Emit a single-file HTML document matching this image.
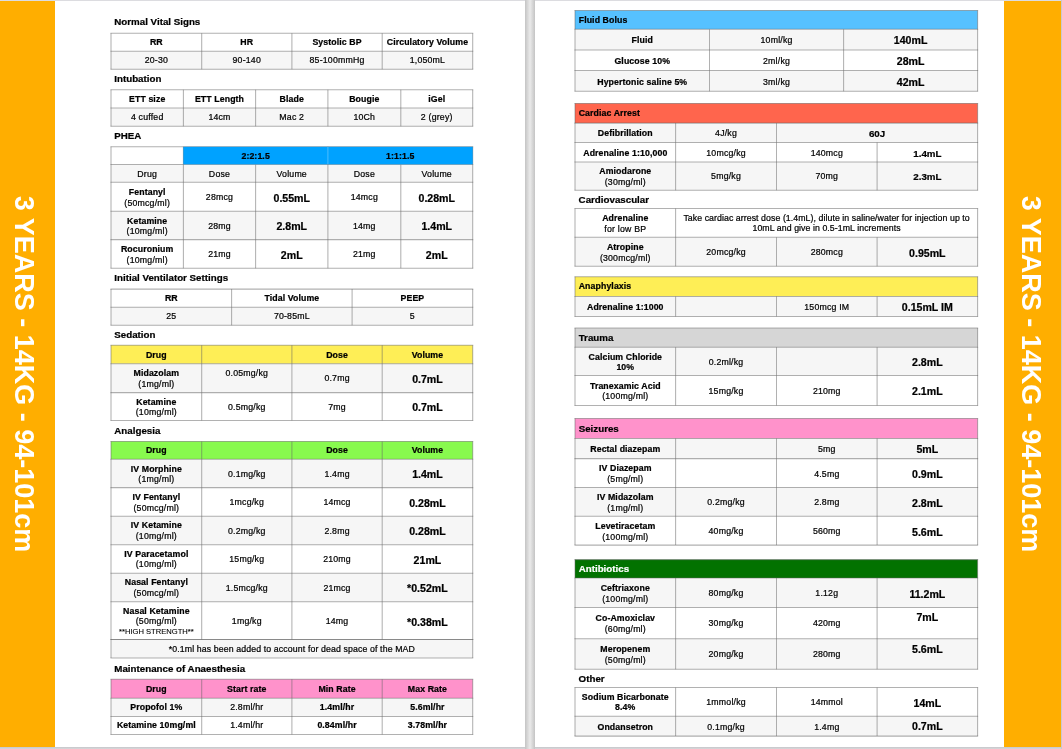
<!DOCTYPE html>
<html><head><meta charset="utf-8"><title>3 YEARS - 14KG - 94-101cm</title>
<style>
html,body{margin:0;padding:0}
body{width:1062px;height:749px;position:relative;overflow:hidden;background:linear-gradient(to bottom,#dcdce0 0,#dcdce0 1px,#fff 1px,#fff 747px,#c6c6ca 747px,#d8d8da 749px);font-family:"Liberation Sans",sans-serif;color:#000;}
.pg{position:absolute;background:#fff}
.bar{position:absolute;top:1px;height:746px;background:#ffae00}
.gap{position:absolute;left:525px;top:0;width:10px;height:749px;background:linear-gradient(to right,#c4c4c4,#e6e6e6 45%,#e6e6e6 55%,#c4c4c4)}
.side{position:absolute;color:#fff;font-weight:bold;font-size:27px;white-space:nowrap;transform:translate(-50%,-50%) rotate(90deg);line-height:1}
svg.g{position:absolute;left:0;top:0}
.t{position:absolute;height:14px;line-height:14px;text-align:center;white-space:nowrap;font-size:8.75px;letter-spacing:0.2px;-webkit-text-stroke:0.22px}
.t.tl{text-align:left}
.t.b{font-weight:bold;font-size:8.75px;letter-spacing:0.1px}
.t.v{font-weight:bold;font-size:10.6px;letter-spacing:0}
.t.hh,.t.h,.t.m{font-weight:bold;font-size:9.75px;letter-spacing:0}
.t.s{font-size:7.6px;letter-spacing:0;-webkit-text-stroke:0.1px}
.t.r2{letter-spacing:0.07px}
.t.r3{letter-spacing:0.12px}
</style></head><body>
<div class="gap"></div>
<div class="gap" style="left:1061px;width:1px;background:#c9c9cb"></div>
<div class="pg" style="left:0;top:1px;width:525px;height:746px"></div>
<div class="pg" style="left:535px;top:1px;width:526px;height:746px"></div>
<div class="bar" style="left:0;width:55px"></div>
<div class="bar" style="left:1004px;width:57px"></div>
<div class="side" style="left:23.2px;top:373.75px">3 YEARS - 14KG - 94-101cm</div>
<div class="side" style="left:1030.2px;top:373.75px">3 YEARS - 14KG - 94-101cm</div>
<svg class="g" width="1062" height="749" viewBox="0 0 1062 749">
<g>
<rect x="111.00" y="51.30" width="361.70" height="18.00" fill="#f6f6f6"/>
<rect x="111.00" y="108.00" width="361.70" height="18.20" fill="#f6f6f6"/>
<rect x="183.40" y="146.70" width="144.50" height="17.70" fill="#00a2ff"/>
<rect x="327.90" y="146.70" width="144.80" height="17.70" fill="#00a2ff"/>
<rect x="111.00" y="164.40" width="361.70" height="17.90" fill="#f6f6f6"/>
<rect x="111.00" y="211.20" width="361.70" height="28.40" fill="#f6f6f6"/>
<rect x="111.00" y="307.20" width="361.70" height="18.10" fill="#f6f6f6"/>
<rect x="111.00" y="345.20" width="361.70" height="18.50" fill="#feee56"/>
<rect x="111.00" y="363.70" width="361.70" height="28.90" fill="#f6f6f6"/>
<rect x="111.00" y="441.40" width="361.70" height="17.90" fill="#88fa4e"/>
<rect x="111.00" y="459.30" width="361.70" height="28.30" fill="#f6f6f6"/>
<rect x="111.00" y="516.30" width="361.70" height="28.50" fill="#f6f6f6"/>
<rect x="111.00" y="573.30" width="361.70" height="28.50" fill="#f6f6f6"/>
<rect x="111.00" y="639.50" width="361.70" height="18.50" fill="#f6f6f6"/>
<rect x="111.00" y="679.20" width="361.70" height="19.00" fill="#ff92cb"/>
<rect x="111.00" y="698.20" width="361.70" height="18.30" fill="#f6f6f6"/>
<rect x="575.00" y="10.50" width="402.60" height="18.80" fill="#56c1ff"/>
<rect x="575.00" y="29.30" width="402.60" height="20.70" fill="#f6f6f6"/>
<rect x="575.00" y="70.50" width="402.60" height="20.80" fill="#f6f6f6"/>
<rect x="575.00" y="103.40" width="402.60" height="19.70" fill="#ff654d"/>
<rect x="575.00" y="123.10" width="402.60" height="19.40" fill="#f6f6f6"/>
<rect x="575.00" y="162.00" width="402.60" height="28.20" fill="#f6f6f6"/>
<rect x="575.00" y="237.30" width="402.60" height="28.90" fill="#f6f6f6"/>
<rect x="575.00" y="276.80" width="402.60" height="19.60" fill="#feee56"/>
<rect x="575.00" y="296.40" width="402.60" height="20.00" fill="#f6f6f6"/>
<rect x="575.00" y="328.00" width="402.60" height="19.20" fill="#d6d6d6"/>
<rect x="575.00" y="347.20" width="402.60" height="28.30" fill="#f6f6f6"/>
<rect x="575.00" y="418.50" width="402.60" height="20.00" fill="#ff92cb"/>
<rect x="575.00" y="438.50" width="402.60" height="20.10" fill="#f6f6f6"/>
<rect x="575.00" y="487.40" width="402.60" height="28.80" fill="#f6f6f6"/>
<rect x="575.00" y="559.60" width="402.60" height="18.40" fill="#027200"/>
<rect x="575.00" y="578.00" width="402.60" height="29.50" fill="#f6f6f6"/>
<rect x="575.00" y="638.80" width="402.60" height="30.50" fill="#f6f6f6"/>
<rect x="575.00" y="716.20" width="402.60" height="19.90" fill="#f6f6f6"/>
</g>
<g fill="none" stroke="rgba(100,100,100,0.5)" stroke-width="1.05">
<path d="M201.70 33.30V51.30"/>
<path d="M291.90 33.30V51.30"/>
<path d="M382.20 33.30V51.30"/>
<path d="M201.70 51.30V69.30"/>
<path d="M291.90 51.30V69.30"/>
<path d="M382.20 51.30V69.30"/>
<path d="M110.47 33.30H473.22"/>
<path d="M110.47 51.30H473.22"/>
<path d="M110.47 69.30H473.22"/>
<path d="M111.00 33.30V69.30"/>
<path d="M472.70 33.30V69.30"/>
<path d="M183.40 89.80V108.00"/>
<path d="M255.60 89.80V108.00"/>
<path d="M327.90 89.80V108.00"/>
<path d="M400.80 89.80V108.00"/>
<path d="M183.40 108.00V126.20"/>
<path d="M255.60 108.00V126.20"/>
<path d="M327.90 108.00V126.20"/>
<path d="M400.80 108.00V126.20"/>
<path d="M110.47 89.80H473.22"/>
<path d="M110.47 108.00H473.22"/>
<path d="M110.47 126.20H473.22"/>
<path d="M111.00 89.80V126.20"/>
<path d="M472.70 89.80V126.20"/>
<path d="M183.40 146.70V164.40"/>
<path d="M327.90 146.70V164.40"/>
<path d="M183.40 164.40V182.30"/>
<path d="M255.60 164.40V182.30"/>
<path d="M327.90 164.40V182.30"/>
<path d="M400.80 164.40V182.30"/>
<path d="M183.40 182.30V211.20"/>
<path d="M255.60 182.30V211.20"/>
<path d="M327.90 182.30V211.20"/>
<path d="M400.80 182.30V211.20"/>
<path d="M183.40 211.20V239.60"/>
<path d="M255.60 211.20V239.60"/>
<path d="M327.90 211.20V239.60"/>
<path d="M400.80 211.20V239.60"/>
<path d="M183.40 239.60V268.30"/>
<path d="M255.60 239.60V268.30"/>
<path d="M327.90 239.60V268.30"/>
<path d="M400.80 239.60V268.30"/>
<path d="M110.47 146.70H473.22"/>
<path d="M110.47 164.40H473.22"/>
<path d="M110.47 182.30H473.22"/>
<path d="M110.47 211.20H473.22"/>
<path d="M110.47 239.60H473.22"/>
<path d="M110.47 268.30H473.22"/>
<path d="M111.00 146.70V268.30"/>
<path d="M472.70 146.70V268.30"/>
<path d="M231.60 289.10V307.20"/>
<path d="M352.10 289.10V307.20"/>
<path d="M231.60 307.20V325.30"/>
<path d="M352.10 307.20V325.30"/>
<path d="M110.47 289.10H473.22"/>
<path d="M110.47 307.20H473.22"/>
<path d="M110.47 325.30H473.22"/>
<path d="M111.00 289.10V325.30"/>
<path d="M472.70 289.10V325.30"/>
<path d="M201.70 345.20V363.70"/>
<path d="M291.90 345.20V363.70"/>
<path d="M382.20 345.20V363.70"/>
<path d="M201.70 363.70V392.60"/>
<path d="M291.90 363.70V392.60"/>
<path d="M382.20 363.70V392.60"/>
<path d="M201.70 392.60V420.50"/>
<path d="M291.90 392.60V420.50"/>
<path d="M382.20 392.60V420.50"/>
<path d="M110.47 345.20H473.22"/>
<path d="M110.47 363.70H473.22"/>
<path d="M110.47 392.60H473.22"/>
<path d="M110.47 420.50H473.22"/>
<path d="M111.00 345.20V420.50"/>
<path d="M472.70 345.20V420.50"/>
<path d="M201.70 441.40V459.30"/>
<path d="M291.90 441.40V459.30"/>
<path d="M382.20 441.40V459.30"/>
<path d="M201.70 459.30V487.60"/>
<path d="M291.90 459.30V487.60"/>
<path d="M382.20 459.30V487.60"/>
<path d="M201.70 487.60V516.30"/>
<path d="M291.90 487.60V516.30"/>
<path d="M382.20 487.60V516.30"/>
<path d="M201.70 516.30V544.80"/>
<path d="M291.90 516.30V544.80"/>
<path d="M382.20 516.30V544.80"/>
<path d="M201.70 544.80V573.30"/>
<path d="M291.90 544.80V573.30"/>
<path d="M382.20 544.80V573.30"/>
<path d="M201.70 573.30V601.80"/>
<path d="M291.90 573.30V601.80"/>
<path d="M382.20 573.30V601.80"/>
<path d="M201.70 601.80V639.50"/>
<path d="M291.90 601.80V639.50"/>
<path d="M382.20 601.80V639.50"/>
<path d="M110.47 441.40H473.22"/>
<path d="M110.47 459.30H473.22"/>
<path d="M110.47 487.60H473.22"/>
<path d="M110.47 516.30H473.22"/>
<path d="M110.47 544.80H473.22"/>
<path d="M110.47 573.30H473.22"/>
<path d="M110.47 601.80H473.22"/>
<path d="M110.47 639.50H473.22"/>
<path d="M111.00 441.40V639.50"/>
<path d="M472.70 441.40V639.50"/>
<path d="M110.47 639.50H473.22"/>
<path d="M110.47 658.00H473.22"/>
<path d="M111.00 639.50V658.00"/>
<path d="M472.70 639.50V658.00"/>
<path d="M201.70 679.20V698.20"/>
<path d="M291.90 679.20V698.20"/>
<path d="M382.20 679.20V698.20"/>
<path d="M201.70 698.20V716.50"/>
<path d="M291.90 698.20V716.50"/>
<path d="M382.20 698.20V716.50"/>
<path d="M201.70 716.50V734.50"/>
<path d="M291.90 716.50V734.50"/>
<path d="M382.20 716.50V734.50"/>
<path d="M110.47 679.20H473.22"/>
<path d="M110.47 698.20H473.22"/>
<path d="M110.47 716.50H473.22"/>
<path d="M110.47 734.50H473.22"/>
<path d="M111.00 679.20V734.50"/>
<path d="M472.70 679.20V734.50"/>
<path d="M709.50 29.30V50.00"/>
<path d="M843.60 29.30V50.00"/>
<path d="M709.50 50.00V70.50"/>
<path d="M843.60 50.00V70.50"/>
<path d="M709.50 70.50V91.30"/>
<path d="M843.60 70.50V91.30"/>
<path d="M574.48 10.50H978.12"/>
<path d="M574.48 29.30H978.12"/>
<path d="M574.48 50.00H978.12"/>
<path d="M574.48 70.50H978.12"/>
<path d="M574.48 91.30H978.12"/>
<path d="M575.00 10.50V91.30"/>
<path d="M977.60 10.50V91.30"/>
<path d="M675.60 123.10V142.50"/>
<path d="M776.50 123.10V142.50"/>
<path d="M675.60 142.50V162.00"/>
<path d="M776.50 142.50V162.00"/>
<path d="M877.10 142.50V162.00"/>
<path d="M675.60 162.00V190.20"/>
<path d="M776.50 162.00V190.20"/>
<path d="M877.10 162.00V190.20"/>
<path d="M574.48 103.40H978.12"/>
<path d="M574.48 123.10H978.12"/>
<path d="M574.48 142.50H978.12"/>
<path d="M574.48 162.00H978.12"/>
<path d="M574.48 190.20H978.12"/>
<path d="M575.00 103.40V190.20"/>
<path d="M977.60 103.40V190.20"/>
<path d="M675.60 208.50V237.30"/>
<path d="M675.60 237.30V266.20"/>
<path d="M776.50 237.30V266.20"/>
<path d="M877.10 237.30V266.20"/>
<path d="M574.48 208.50H978.12"/>
<path d="M574.48 237.30H978.12"/>
<path d="M574.48 266.20H978.12"/>
<path d="M575.00 208.50V266.20"/>
<path d="M977.60 208.50V266.20"/>
<path d="M675.60 296.40V316.40"/>
<path d="M776.50 296.40V316.40"/>
<path d="M877.10 296.40V316.40"/>
<path d="M574.48 276.80H978.12"/>
<path d="M574.48 296.40H978.12"/>
<path d="M574.48 316.40H978.12"/>
<path d="M575.00 276.80V316.40"/>
<path d="M977.60 276.80V316.40"/>
<path d="M675.60 347.20V375.50"/>
<path d="M776.50 347.20V375.50"/>
<path d="M877.10 347.20V375.50"/>
<path d="M675.60 375.50V405.50"/>
<path d="M776.50 375.50V405.50"/>
<path d="M877.10 375.50V405.50"/>
<path d="M574.48 328.00H978.12"/>
<path d="M574.48 347.20H978.12"/>
<path d="M574.48 375.50H978.12"/>
<path d="M574.48 405.50H978.12"/>
<path d="M575.00 328.00V405.50"/>
<path d="M977.60 328.00V405.50"/>
<path d="M675.60 438.50V458.60"/>
<path d="M776.50 438.50V458.60"/>
<path d="M877.10 438.50V458.60"/>
<path d="M675.60 458.60V487.40"/>
<path d="M776.50 458.60V487.40"/>
<path d="M877.10 458.60V487.40"/>
<path d="M675.60 487.40V516.20"/>
<path d="M776.50 487.40V516.20"/>
<path d="M877.10 487.40V516.20"/>
<path d="M675.60 516.20V545.10"/>
<path d="M776.50 516.20V545.10"/>
<path d="M877.10 516.20V545.10"/>
<path d="M574.48 418.50H978.12"/>
<path d="M574.48 438.50H978.12"/>
<path d="M574.48 458.60H978.12"/>
<path d="M574.48 487.40H978.12"/>
<path d="M574.48 516.20H978.12"/>
<path d="M574.48 545.10H978.12"/>
<path d="M575.00 418.50V545.10"/>
<path d="M977.60 418.50V545.10"/>
<path d="M675.60 578.00V607.50"/>
<path d="M776.50 578.00V607.50"/>
<path d="M877.10 578.00V607.50"/>
<path d="M675.60 607.50V638.80"/>
<path d="M776.50 607.50V638.80"/>
<path d="M877.10 607.50V638.80"/>
<path d="M675.60 638.80V669.30"/>
<path d="M776.50 638.80V669.30"/>
<path d="M877.10 638.80V669.30"/>
<path d="M574.48 559.60H978.12"/>
<path d="M574.48 578.00H978.12"/>
<path d="M574.48 607.50H978.12"/>
<path d="M574.48 638.80H978.12"/>
<path d="M574.48 669.30H978.12"/>
<path d="M575.00 559.60V669.30"/>
<path d="M977.60 559.60V669.30"/>
<path d="M675.60 687.50V716.20"/>
<path d="M776.50 687.50V716.20"/>
<path d="M877.10 687.50V716.20"/>
<path d="M675.60 716.20V736.10"/>
<path d="M776.50 716.20V736.10"/>
<path d="M877.10 716.20V736.10"/>
<path d="M574.48 687.50H978.12"/>
<path d="M574.48 716.20H978.12"/>
<path d="M574.48 736.10H978.12"/>
<path d="M575.00 687.50V736.10"/>
<path d="M977.60 687.50V736.10"/>
</g>
<rect x="183.5" y="147.0" width="289.0" height="17.3" fill="#00a2ff"/>
<path d="M327.9 147V164.3" stroke="rgba(255,255,255,0.3)" stroke-width="1" fill="none"/>
</svg>
<div class="t tl h" style="left:114.30px;top:14.74px;">Normal Vital Signs</div>
<div class="t b" style="left:111.00px;width:90.70px;top:34.80px;">RR</div>
<div class="t b" style="left:201.70px;width:90.20px;top:34.80px;">HR</div>
<div class="t b" style="left:291.90px;width:90.30px;top:34.80px;">Systolic BP</div>
<div class="t b" style="left:382.20px;width:90.50px;top:34.80px;">Circulatory Volume</div>
<div class="t r" style="left:111.00px;width:90.70px;top:52.70px;">20-30</div>
<div class="t r" style="left:201.70px;width:90.20px;top:52.70px;">90-140</div>
<div class="t r" style="left:291.90px;width:90.30px;top:52.70px;">85-100mmHg</div>
<div class="t r" style="left:382.20px;width:90.50px;top:52.70px;">1,050mL</div>
<div class="t tl h" style="left:114.30px;top:71.64px;">Intubation</div>
<div class="t b" style="left:111.00px;width:72.40px;top:92.10px;">ETT size</div>
<div class="t b" style="left:183.40px;width:72.20px;top:92.10px;">ETT Length</div>
<div class="t b" style="left:255.60px;width:72.30px;top:92.10px;">Blade</div>
<div class="t b" style="left:327.90px;width:72.90px;top:92.10px;">Bougie</div>
<div class="t b" style="left:400.80px;width:71.90px;top:92.10px;">iGel</div>
<div class="t r" style="left:111.00px;width:72.40px;top:110.30px;">4 cuffed</div>
<div class="t r" style="left:183.40px;width:72.20px;top:110.30px;">14cm</div>
<div class="t r" style="left:255.60px;width:72.30px;top:110.30px;">Mac 2</div>
<div class="t r" style="left:327.90px;width:72.90px;top:110.30px;">10Ch</div>
<div class="t r" style="left:400.80px;width:71.90px;top:110.30px;">2 (grey)</div>
<div class="t tl h" style="left:114.30px;top:128.64px;">PHEA</div>
<div class="t b" style="left:183.40px;width:144.50px;top:148.75px;">2:2:1.5</div>
<div class="t b" style="left:327.90px;width:144.80px;top:148.75px;">1:1:1.5</div>
<div class="t r" style="left:111.00px;width:72.40px;top:166.55px;">Drug</div>
<div class="t r" style="left:183.40px;width:72.20px;top:166.55px;">Dose</div>
<div class="t r" style="left:255.60px;width:72.30px;top:166.55px;">Volume</div>
<div class="t r" style="left:327.90px;width:72.90px;top:166.55px;">Dose</div>
<div class="t r" style="left:400.80px;width:71.90px;top:166.55px;">Volume</div>
<div class="t b" style="left:111.00px;width:72.40px;top:184.85px;">Fentanyl</div>
<div class="t r" style="left:111.00px;width:72.40px;top:195.65px;">(50mcg/ml)</div>
<div class="t r" style="left:183.40px;width:72.20px;top:189.95px;">28mcg</div>
<div class="t v" style="left:255.60px;width:72.30px;top:190.65px;">0.55mL</div>
<div class="t r" style="left:327.90px;width:72.90px;top:189.95px;">14mcg</div>
<div class="t v" style="left:400.80px;width:71.90px;top:190.65px;">0.28mL</div>
<div class="t b" style="left:111.00px;width:72.40px;top:213.50px;">Ketamine</div>
<div class="t r" style="left:111.00px;width:72.40px;top:224.30px;">(10mg/ml)</div>
<div class="t r" style="left:183.40px;width:72.20px;top:218.60px;">28mg</div>
<div class="t v" style="left:255.60px;width:72.30px;top:219.30px;">2.8mL</div>
<div class="t r" style="left:327.90px;width:72.90px;top:218.60px;">14mg</div>
<div class="t v" style="left:400.80px;width:71.90px;top:219.30px;">1.4mL</div>
<div class="t b" style="left:111.00px;width:72.40px;top:242.05px;">Rocuronium</div>
<div class="t r" style="left:111.00px;width:72.40px;top:252.85px;">(10mg/ml)</div>
<div class="t r" style="left:183.40px;width:72.20px;top:247.15px;">21mg</div>
<div class="t v" style="left:255.60px;width:72.30px;top:247.85px;">2mL</div>
<div class="t r" style="left:327.90px;width:72.90px;top:247.15px;">21mg</div>
<div class="t v" style="left:400.80px;width:71.90px;top:247.85px;">2mL</div>
<div class="t tl h" style="left:114.30px;top:270.64px;">Initial Ventilator Settings</div>
<div class="t b" style="left:111.00px;width:120.60px;top:291.35px;">RR</div>
<div class="t b" style="left:231.60px;width:120.50px;top:291.35px;">Tidal Volume</div>
<div class="t b" style="left:352.10px;width:120.60px;top:291.35px;">PEEP</div>
<div class="t r" style="left:111.00px;width:120.60px;top:309.45px;">25</div>
<div class="t r" style="left:231.60px;width:120.50px;top:309.45px;">70-85mL</div>
<div class="t r" style="left:352.10px;width:120.60px;top:309.45px;">5</div>
<div class="t tl h" style="left:114.30px;top:327.64px;">Sedation</div>
<div class="t b" style="left:111.00px;width:90.70px;top:347.65px;">Drug</div>
<div class="t b" style="left:291.90px;width:90.30px;top:347.65px;">Dose</div>
<div class="t b" style="left:382.20px;width:90.50px;top:347.65px;">Volume</div>
<div class="t b" style="left:111.00px;width:90.70px;top:366.25px;">Midazolam</div>
<div class="t r" style="left:111.00px;width:90.70px;top:377.05px;">(1mg/ml)</div>
<div class="t r" style="left:201.70px;width:90.20px;top:365.95px;">0.05mg/kg</div>
<div class="t r" style="left:291.90px;width:90.30px;top:371.35px;">0.7mg</div>
<div class="t v" style="left:382.20px;width:90.50px;top:372.05px;">0.7mL</div>
<div class="t b" style="left:111.00px;width:90.70px;top:394.65px;">Ketamine</div>
<div class="t r" style="left:111.00px;width:90.70px;top:405.45px;">(10mg/ml)</div>
<div class="t r" style="left:201.70px;width:90.20px;top:399.75px;">0.5mg/kg</div>
<div class="t r" style="left:291.90px;width:90.30px;top:399.75px;">7mg</div>
<div class="t v" style="left:382.20px;width:90.50px;top:400.45px;">0.7mL</div>
<div class="t tl h" style="left:114.30px;top:424.14px;">Analgesia</div>
<div class="t b" style="left:111.00px;width:90.70px;top:442.85px;">Drug</div>
<div class="t b" style="left:291.90px;width:90.30px;top:442.85px;">Dose</div>
<div class="t b" style="left:382.20px;width:90.50px;top:442.85px;">Volume</div>
<div class="t b" style="left:111.00px;width:90.70px;top:461.55px;">IV Morphine</div>
<div class="t r" style="left:111.00px;width:90.70px;top:472.35px;">(1mg/ml)</div>
<div class="t r" style="left:201.70px;width:90.20px;top:466.65px;">0.1mg/kg</div>
<div class="t r" style="left:291.90px;width:90.30px;top:466.65px;">1.4mg</div>
<div class="t v" style="left:382.20px;width:90.50px;top:467.35px;">1.4mL</div>
<div class="t b" style="left:111.00px;width:90.70px;top:490.05px;">IV Fentanyl</div>
<div class="t r" style="left:111.00px;width:90.70px;top:500.85px;">(50mcg/ml)</div>
<div class="t r" style="left:201.70px;width:90.20px;top:495.15px;">1mcg/kg</div>
<div class="t r" style="left:291.90px;width:90.30px;top:495.15px;">14mcg</div>
<div class="t v" style="left:382.20px;width:90.50px;top:495.85px;">0.28mL</div>
<div class="t b" style="left:111.00px;width:90.70px;top:518.35px;">IV Ketamine</div>
<div class="t r" style="left:111.00px;width:90.70px;top:529.15px;">(10mg/ml)</div>
<div class="t r" style="left:201.70px;width:90.20px;top:523.75px;">0.2mg/kg</div>
<div class="t r" style="left:291.90px;width:90.30px;top:523.75px;">2.8mg</div>
<div class="t v" style="left:382.20px;width:90.50px;top:524.45px;">0.28mL</div>
<div class="t b" style="left:111.00px;width:90.70px;top:546.65px;">IV Paracetamol</div>
<div class="t r" style="left:111.00px;width:90.70px;top:557.45px;">(10mg/ml)</div>
<div class="t r" style="left:201.70px;width:90.20px;top:552.25px;">15mg/kg</div>
<div class="t r" style="left:291.90px;width:90.30px;top:552.25px;">210mg</div>
<div class="t v" style="left:382.20px;width:90.50px;top:552.95px;">21mL</div>
<div class="t b" style="left:111.00px;width:90.70px;top:575.35px;">Nasal Fentanyl</div>
<div class="t r" style="left:111.00px;width:90.70px;top:586.15px;">(50mcg/ml)</div>
<div class="t r" style="left:201.70px;width:90.20px;top:580.75px;">1.5mcg/kg</div>
<div class="t r" style="left:291.90px;width:90.30px;top:580.75px;">21mcg</div>
<div class="t v" style="left:382.20px;width:90.50px;top:581.45px;">*0.52mL</div>
<div class="t b" style="left:111.00px;width:90.70px;top:603.75px;">Nasal Ketamine</div>
<div class="t r" style="left:111.00px;width:90.70px;top:614.05px;">(50mg/ml)</div>
<div class="t s" style="left:111.00px;width:90.70px;top:625.15px;">**HIGH STRENGTH**</div>
<div class="t r" style="left:201.70px;width:90.20px;top:613.85px;">1mg/kg</div>
<div class="t r" style="left:291.90px;width:90.30px;top:613.85px;">14mg</div>
<div class="t v" style="left:382.20px;width:90.50px;top:614.55px;">*0.38mL</div>
<div class="t r3" style="left:111.00px;width:361.70px;top:641.95px;">*0.1ml has been added to account for dead space of the MAD</div>
<div class="t tl h" style="left:114.30px;top:661.64px;">Maintenance of Anaesthesia</div>
<div class="t b" style="left:111.00px;width:90.70px;top:681.90px;">Drug</div>
<div class="t b" style="left:201.70px;width:90.20px;top:681.90px;">Start rate</div>
<div class="t b" style="left:291.90px;width:90.30px;top:681.90px;">Min Rate</div>
<div class="t b" style="left:382.20px;width:90.50px;top:681.90px;">Max Rate</div>
<div class="t b" style="left:111.00px;width:90.70px;top:699.85px;">Propofol 1%</div>
<div class="t r" style="left:201.70px;width:90.20px;top:699.85px;">2.8ml/hr</div>
<div class="t b" style="left:291.90px;width:90.30px;top:699.85px;">1.4ml/hr</div>
<div class="t b" style="left:382.20px;width:90.50px;top:699.85px;">5.6ml/hr</div>
<div class="t b" style="left:111.00px;width:90.70px;top:718.00px;">Ketamine 10mg/ml</div>
<div class="t r" style="left:201.70px;width:90.20px;top:718.00px;">1.4ml/hr</div>
<div class="t b" style="left:291.90px;width:90.30px;top:718.00px;">0.84ml/hr</div>
<div class="t b" style="left:382.20px;width:90.50px;top:718.00px;">3.78ml/hr</div>
<div class="t tl b" style="left:578.70px;top:13.10px;">Fluid Bolus</div>
<div class="t b" style="left:575.00px;width:134.50px;top:32.85px;">Fluid</div>
<div class="t r" style="left:709.50px;width:134.10px;top:32.85px;">10ml/kg</div>
<div class="t v" style="left:843.60px;width:134.00px;top:32.65px;">140mL</div>
<div class="t b" style="left:575.00px;width:134.50px;top:54.25px;">Glucose 10%</div>
<div class="t r" style="left:709.50px;width:134.10px;top:54.25px;">2ml/kg</div>
<div class="t v" style="left:843.60px;width:134.00px;top:54.05px;">28mL</div>
<div class="t b" style="left:575.00px;width:134.50px;top:74.90px;">Hypertonic saline 5%</div>
<div class="t r" style="left:709.50px;width:134.10px;top:74.90px;">3ml/kg</div>
<div class="t v" style="left:843.60px;width:134.00px;top:74.70px;">42mL</div>
<div class="t tl b" style="left:578.70px;top:106.45px;">Cardiac Arrest</div>
<div class="t b" style="left:575.00px;width:100.60px;top:126.00px;">Defibrillation</div>
<div class="t r" style="left:675.60px;width:100.90px;top:126.00px;">4J/kg</div>
<div class="t m" style="left:776.50px;width:201.10px;top:126.70px;">60J</div>
<div class="t b" style="left:575.00px;width:100.60px;top:146.15px;">Adrenaline 1:10,000</div>
<div class="t r" style="left:675.60px;width:100.90px;top:146.15px;">10mcg/kg</div>
<div class="t r" style="left:776.50px;width:100.60px;top:146.15px;">140mcg</div>
<div class="t m" style="left:877.10px;width:100.50px;top:146.85px;">1.4mL</div>
<div class="t b" style="left:575.00px;width:100.60px;top:164.20px;">Amiodarone</div>
<div class="t r" style="left:575.00px;width:100.60px;top:175.00px;">(30mg/ml)</div>
<div class="t r" style="left:675.60px;width:100.90px;top:169.30px;">5mg/kg</div>
<div class="t r" style="left:776.50px;width:100.60px;top:169.30px;">70mg</div>
<div class="t m" style="left:877.10px;width:100.50px;top:169.80px;">2.3mL</div>
<div class="t tl h" style="left:578.60px;top:192.64px;">Cardiovascular</div>
<div class="t b" style="left:575.00px;width:100.60px;top:211.00px;">Adrenaline</div>
<div class="t r" style="left:575.00px;width:100.60px;top:221.80px;">for low BP</div>
<div class="t r2" style="left:675.60px;width:302.00px;top:211.10px;">Take cardiac arrest dose (1.4mL), dilute in saline/water for injection up to</div>
<div class="t r2" style="left:675.60px;width:302.00px;top:221.00px;">10mL and give in 0.5-1mL increments</div>
<div class="t b" style="left:575.00px;width:100.60px;top:239.85px;">Atropine</div>
<div class="t r" style="left:575.00px;width:100.60px;top:250.65px;">(300mcg/ml)</div>
<div class="t r" style="left:675.60px;width:100.90px;top:244.95px;">20mcg/kg</div>
<div class="t r" style="left:776.50px;width:100.60px;top:244.95px;">280mcg</div>
<div class="t v" style="left:877.10px;width:100.50px;top:245.65px;">0.95mL</div>
<div class="t tl b" style="left:578.70px;top:279.10px;">Anaphylaxis</div>
<div class="t b" style="left:575.00px;width:100.60px;top:300.20px;">Adrenaline 1:1000</div>
<div class="t r" style="left:776.50px;width:100.60px;top:300.20px;">150mcg IM</div>
<div class="t v" style="left:877.10px;width:100.50px;top:300.00px;">0.15mL IM</div>
<div class="t tl hh" style="left:578.70px;top:331.34px;">Trauma</div>
<div class="t b" style="left:575.00px;width:100.60px;top:350.05px;">Calcium Chloride</div>
<div class="t b" style="left:575.00px;width:100.60px;top:360.25px;">10%</div>
<div class="t r" style="left:675.60px;width:100.90px;top:354.55px;">0.2ml/kg</div>
<div class="t v" style="left:877.10px;width:100.50px;top:355.25px;">2.8mL</div>
<div class="t b" style="left:575.00px;width:100.60px;top:378.60px;">Tranexamic Acid</div>
<div class="t r" style="left:575.00px;width:100.60px;top:389.40px;">(100mg/ml)</div>
<div class="t r" style="left:675.60px;width:100.90px;top:383.70px;">15mg/kg</div>
<div class="t r" style="left:776.50px;width:100.60px;top:383.70px;">210mg</div>
<div class="t v" style="left:877.10px;width:100.50px;top:384.40px;">2.1mL</div>
<div class="t tl hh" style="left:578.70px;top:422.24px;">Seizures</div>
<div class="t b" style="left:575.00px;width:100.60px;top:441.75px;">Rectal diazepam</div>
<div class="t r" style="left:776.50px;width:100.60px;top:441.75px;">5mg</div>
<div class="t v" style="left:877.10px;width:100.50px;top:441.55px;">5mL</div>
<div class="t b" style="left:575.00px;width:100.60px;top:461.10px;">IV Diazepam</div>
<div class="t r" style="left:575.00px;width:100.60px;top:471.90px;">(5mg/ml)</div>
<div class="t r" style="left:776.50px;width:100.60px;top:466.80px;">4.5mg</div>
<div class="t v" style="left:877.10px;width:100.50px;top:466.90px;">0.9mL</div>
<div class="t b" style="left:575.00px;width:100.60px;top:489.90px;">IV Midazolam</div>
<div class="t r" style="left:575.00px;width:100.60px;top:500.70px;">(1mg/ml)</div>
<div class="t r" style="left:675.60px;width:100.90px;top:495.00px;">0.2mg/kg</div>
<div class="t r" style="left:776.50px;width:100.60px;top:495.00px;">2.8mg</div>
<div class="t v" style="left:877.10px;width:100.50px;top:495.70px;">2.8mL</div>
<div class="t b" style="left:575.00px;width:100.60px;top:518.75px;">Levetiracetam</div>
<div class="t r" style="left:575.00px;width:100.60px;top:529.55px;">(100mg/ml)</div>
<div class="t r" style="left:675.60px;width:100.90px;top:523.85px;">40mg/kg</div>
<div class="t r" style="left:776.50px;width:100.60px;top:523.85px;">560mg</div>
<div class="t v" style="left:877.10px;width:100.50px;top:524.55px;">5.6mL</div>
<div class="t tl hh" style="left:578.70px;top:561.74px;color:#fff;">Antibiotics</div>
<div class="t b" style="left:575.00px;width:100.60px;top:580.85px;">Ceftriaxone</div>
<div class="t r" style="left:575.00px;width:100.60px;top:591.65px;">(100mg/ml)</div>
<div class="t r" style="left:675.60px;width:100.90px;top:585.95px;">80mg/kg</div>
<div class="t r" style="left:776.50px;width:100.60px;top:585.95px;">1.12g</div>
<div class="t v" style="left:877.10px;width:100.50px;top:586.65px;">11.2mL</div>
<div class="t b" style="left:575.00px;width:100.60px;top:611.25px;">Co-Amoxiclav</div>
<div class="t r" style="left:575.00px;width:100.60px;top:622.05px;">(60mg/ml)</div>
<div class="t r" style="left:675.60px;width:100.90px;top:616.35px;">30mg/kg</div>
<div class="t r" style="left:776.50px;width:100.60px;top:616.35px;">420mg</div>
<div class="t v" style="left:877.10px;width:100.50px;top:610.45px;">7mL</div>
<div class="t b" style="left:575.00px;width:100.60px;top:642.15px;">Meropenem</div>
<div class="t r" style="left:575.00px;width:100.60px;top:652.95px;">(50mg/ml)</div>
<div class="t r" style="left:675.60px;width:100.90px;top:647.25px;">20mg/kg</div>
<div class="t r" style="left:776.50px;width:100.60px;top:647.25px;">280mg</div>
<div class="t v" style="left:877.10px;width:100.50px;top:641.95px;">5.6mL</div>
<div class="t tl h" style="left:578.60px;top:671.64px;">Other</div>
<div class="t b" style="left:575.00px;width:100.60px;top:689.85px;">Sodium Bicarbonate</div>
<div class="t b" style="left:575.00px;width:100.60px;top:700.05px;">8.4%</div>
<div class="t r" style="left:675.60px;width:100.90px;top:695.05px;">1mmol/kg</div>
<div class="t r" style="left:776.50px;width:100.60px;top:695.05px;">14mmol</div>
<div class="t v" style="left:877.10px;width:100.50px;top:695.75px;">14mL</div>
<div class="t b" style="left:575.00px;width:100.60px;top:719.85px;">Ondansetron</div>
<div class="t r" style="left:675.60px;width:100.90px;top:719.85px;">0.1mg/kg</div>
<div class="t r" style="left:776.50px;width:100.60px;top:719.85px;">1.4mg</div>
<div class="t v" style="left:877.10px;width:100.50px;top:719.15px;">0.7mL</div>
</body></html>
